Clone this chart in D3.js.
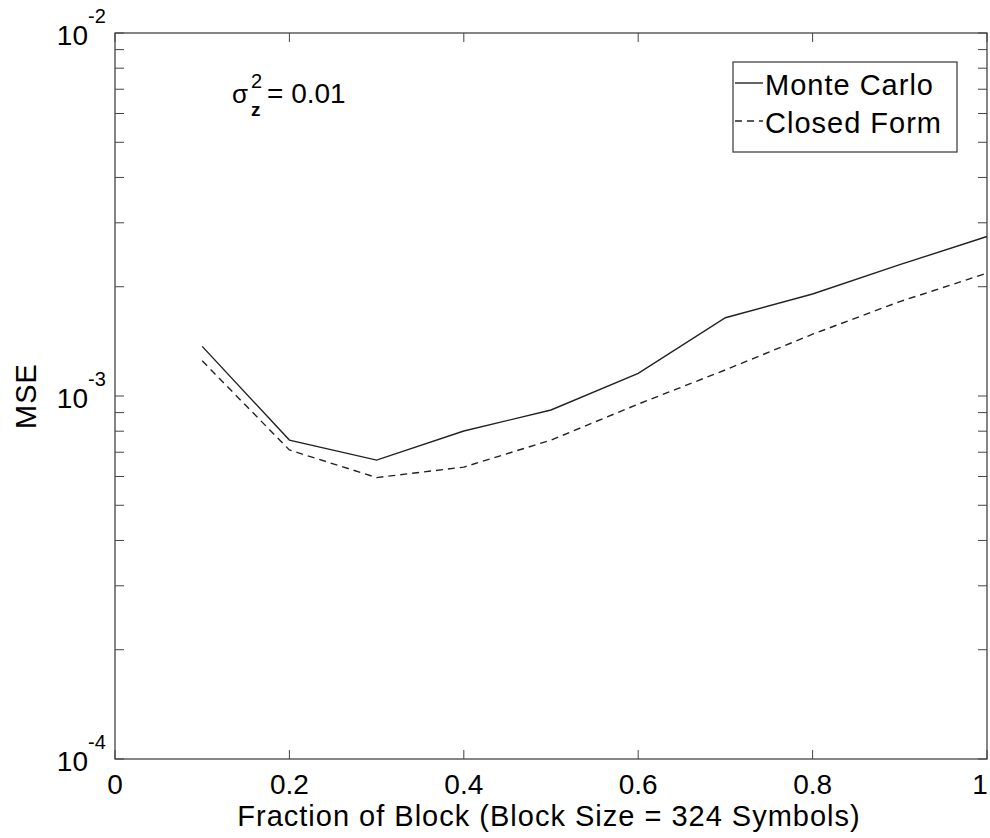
<!DOCTYPE html>
<html><head><meta charset="utf-8">
<script src="https://cdn.jsdelivr.net/npm/d3@7"></script>
<style>body{margin:0;background:#fff}svg text{font-family:"Liberation Sans",Arial,sans-serif;fill:#000}</style>
</head><body>
<svg id="c" width="990" height="838"></svg>
<script>
const fractions = [0.1,0.2,0.3,0.4,0.5,0.6,0.7,0.8,0.9,1.0];
const monteCarlo = [1.37e-3,7.56e-4,6.66e-4,8.01e-4,9.15e-4,1.155e-3,1.643e-3,1.91e-3,2.30e-3,2.75e-3];
const closedForm = [1.25e-3,7.1e-4,5.96e-4,6.37e-4,7.56e-4,9.5e-4,1.18e-3,1.48e-3,1.82e-3,2.18e-3];
const xTicks = [0,0.2,0.4,0.6,0.8,1];
const xTickLabels = ["0","0.2","0.4","0.6","0.8","1"];
const yMajor = [1e-4,1e-3,1e-2];
const yMajorExp = ["-4","-3","-2"];
const seriesNames = ["Monte Carlo","Closed Form"];

const svg = d3.select("#c");
const L=115,R=987,T=33,B=759;
const x = d3.scaleLinear().domain([0,1]).range([L,R]);
const y = d3.scaleLog().domain([1e-4,1e-2]).range([B,T]);
const axisColor="#444";
const lineColor="#222";

const minor=[];
[1e-4,1e-3].forEach(d=>{for(let k=2;k<=9;k++)minor.push(d*k);});
const tickLen=9;
const g=svg.append("g");
[...yMajor,...minor].forEach(v=>{
  g.append("line").attr("x1",L).attr("x2",L+tickLen).attr("y1",y(v)).attr("y2",y(v)).attr("stroke",axisColor).attr("stroke-width",1);
  g.append("line").attr("x1",R-tickLen).attr("x2",R).attr("y1",y(v)).attr("y2",y(v)).attr("stroke",axisColor).attr("stroke-width",1);
});
xTicks.forEach(v=>{
  g.append("line").attr("x1",x(v)).attr("x2",x(v)).attr("y1",B).attr("y2",B-tickLen).attr("stroke",axisColor);
  g.append("line").attr("x1",x(v)).attr("x2",x(v)).attr("y1",T).attr("y2",T+tickLen).attr("stroke",axisColor);
});
g.append("rect").attr("x",L).attr("y",T).attr("width",R-L).attr("height",B-T).attr("fill","none").attr("stroke",axisColor).attr("stroke-width",1.3);

xTicks.forEach((v,i)=>{
  svg.append("text").attr("x",Math.min(x(v),980)).attr("y",794).attr("text-anchor","middle").attr("font-size",28).text(xTickLabels[i]);
});
yMajor.forEach((v,i)=>{
  svg.append("text").attr("x",88).attr("y",y(v)+12).attr("text-anchor","end").attr("font-size",28).text("10");
  svg.append("text").attr("x",88).attr("y",y(v)-10).attr("font-size",20).text(yMajorExp[i]);
});

svg.append("text").attr("x",549).attr("y",826).attr("text-anchor","middle").attr("font-size",29).attr("letter-spacing",1).text("Fraction of Block (Block Size = 324 Symbols)");
svg.append("text").attr("transform","translate(36,396) rotate(-90)").attr("text-anchor","middle").attr("font-size",29).attr("letter-spacing",1).text("MSE");

const line=(arr)=>d3.line().x((d,i)=>x(fractions[i])).y(d=>y(d))(arr);
svg.append("path").attr("d",line(monteCarlo)).attr("fill","none").attr("stroke",lineColor).attr("stroke-width",1.4);
svg.append("path").attr("d",line(closedForm)).attr("fill","none").attr("stroke",lineColor).attr("stroke-width",1.4).attr("stroke-dasharray","7,5");

// annotation
svg.append("text").attr("x",232).attr("y",103).attr("font-size",26).text("σ");
svg.append("text").attr("x",251).attr("y",88).attr("font-size",20).text("2");
svg.append("text").attr("x",251).attr("y",116).attr("font-size",19).attr("font-weight","bold").text("z");
svg.append("text").attr("x",267).attr("y",103).attr("font-size",28).text("= 0.01");

// legend
const lx=733,ly=62,lw=224,lh=90;
svg.append("rect").attr("x",lx).attr("y",ly).attr("width",lw).attr("height",lh).attr("fill","#fff").attr("stroke",axisColor).attr("stroke-width",1.3);
const legY=[83,121];
seriesNames.forEach((n,i)=>{
  svg.append("line").attr("x1",lx+2).attr("x2",763).attr("y1",legY[i]).attr("y2",legY[i]).attr("stroke",lineColor).attr("stroke-width",1.4).attr("stroke-dasharray",i?"7,5":null);
  svg.append("text").attr("x",765).attr("y",legY[i]+12).attr("font-size",29).attr("letter-spacing",1).text(n);
});
</script>
</body></html>
